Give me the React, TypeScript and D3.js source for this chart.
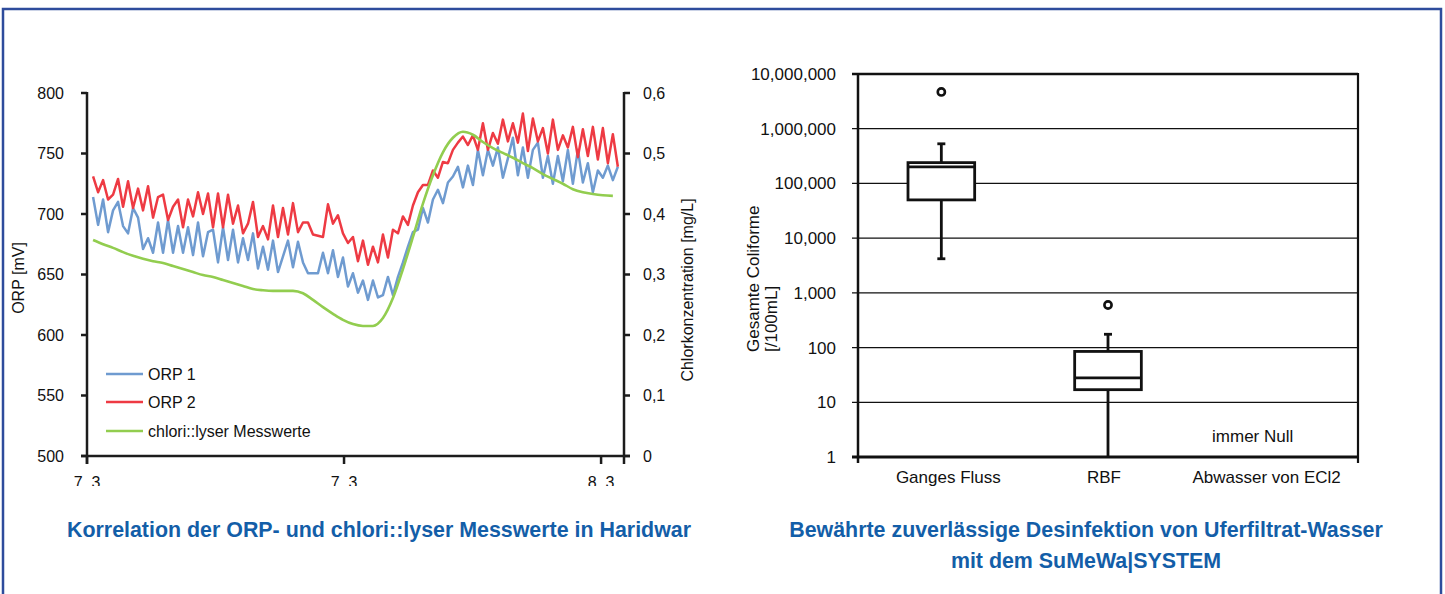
import React from "react";
import * as d3 from "d3";

// ---------- Left chart data (ORP and chlorine over time) ----------
const sampleStartMin = 17; // first sample, minutes after 7.3 00:00
const orpStepMin = 14;
const chlorStepMin = 28;

const orp1 = [
  714, 691, 712, 685, 703, 710, 690, 684, 705, 697,
  671, 680, 668, 693, 668, 695, 668, 690, 668, 689,
  666, 693, 665, 685, 687, 660, 689, 662, 687, 660,
  680, 662, 684, 655, 673, 654, 678, 652, 665, 678,
  656, 677, 660, 651, 651, 651, 668, 651, 670, 648,
  664, 640, 651, 635, 645, 629, 645, 631, 633, 648,
  633, 648, 660, 673, 685, 687, 705, 693, 712, 720,
  709, 726, 731, 739, 722, 740, 724, 753, 732, 753,
  740, 755, 730, 746, 763, 732, 755, 730, 753, 759,
  730, 748, 725, 748, 727, 753, 725, 753, 726, 742,
  718, 736, 730, 740, 728, 739,
];

const orp2 = [
  731, 718, 728, 712, 716, 729, 706, 727, 705, 721,
  703, 723, 697, 714, 716, 695, 706, 712, 689, 712,
  698, 718, 700, 717, 689, 717, 689, 716, 692, 707,
  684, 692, 710, 681, 690, 679, 707, 681, 705, 683,
  709, 685, 693, 693, 683, 682, 681, 708, 692, 699,
  684, 676, 681, 661, 678, 658, 673, 660, 683, 664,
  687, 684, 698, 691, 707, 718, 724, 724, 736, 730,
  743, 742, 753, 759, 764, 757, 765, 753, 775, 753,
  767, 758, 778, 760, 775, 759, 783, 752, 779, 760,
  771, 750, 778, 753, 765, 755, 772, 747, 770, 748,
  772, 745, 771, 742, 766, 739,
];

const chlor = [
  0.357, 0.35, 0.344, 0.337, 0.331, 0.326, 0.322, 0.319, 0.314, 0.309,
  0.304, 0.299, 0.296, 0.291, 0.286, 0.281, 0.276, 0.274, 0.273, 0.273,
  0.273, 0.269, 0.258, 0.246, 0.235, 0.225, 0.218, 0.215, 0.215, 0.228,
  0.261, 0.309, 0.362, 0.417, 0.464, 0.502, 0.526, 0.536, 0.531, 0.519,
  0.509, 0.501, 0.493, 0.484, 0.476, 0.466, 0.458, 0.45, 0.441, 0.436,
  0.433, 0.431, 0.43,
];

const timeTicks = [0, 12, 24];
const timeTickLabels = ["7. 3", "7. 3", "8. 3"];
const orpTicks = [500, 550, 600, 650, 700, 750, 800];
const chlorTicks = [0, 0.1, 0.2, 0.3, 0.4, 0.5, 0.6];
const chlorTickLabels = ["0", "0,1", "0,2", "0,3", "0,4", "0,5", "0,6"];
const seriesNames = ["ORP 1", "ORP 2", "chlori::lyser Messwerte"];

// ---------- Right chart data (box plot, log scale) ----------
const boxCategories = ["Ganges Fluss", "RBF", "Abwasser von ECl2"];
const boxMin = [4200, 1, null];
const boxQ1 = [50000, 17, null];
const boxMedian = [200000, 28, null];
const boxQ3 = [240000, 85, null];
const boxMax = [530000, 175, null];
const boxOutlier = [4700000, 600, null];
const logTicks = [1, 10, 100, 1000, 10000, 100000, 1000000, 10000000];

const FONT = "'Liberation Sans', Arial, Helvetica, sans-serif";
const AX = "#1c1c1c";
const TITLE_BLUE = "#135ea8";
const COL_BLUE = "#6f9bd0";
const COL_RED = "#ee3a43";
const COL_GREEN = "#92cd4f";

export default function App() {
  // left chart geometry
  const L = { left: 87, right: 624, top: 93, bottom: 456 };
  const x = d3.scaleLinear().domain([0, 25.07]).range([L.left, L.right]);
  const yOrp = d3.scaleLinear().domain([500, 800]).range([L.bottom, L.top]);
  const yChl = d3.scaleLinear().domain([0, 0.6]).range([L.bottom, L.top]);

  const orpTime = (i: number) => (sampleStartMin + i * orpStepMin) / 60;
  const chlTime = (i: number) => (sampleStartMin + i * chlorStepMin) / 60;

  const orpLine = d3
    .line<number>()
    .x((_, i) => x(orpTime(i)))
    .y((d) => yOrp(d));
  const chlLine = d3
    .line<number>()
    .x((_, i) => x(chlTime(i)))
    .y((d) => yChl(d))
    .curve(d3.curveMonotoneX);

  // right chart geometry
  const R = { left: 858, right: 1358, top: 74, bottom: 457 };
  const yLog = d3.scaleLog().domain([1, 1e7]).range([R.bottom, R.top]);
  const xBand = d3.scaleBand<string>().domain(boxCategories).range([R.left, R.right]);
  const boxW = xBand.bandwidth() * 0.4;
  const fmt = d3.format(",");

  const legendColors = [COL_BLUE, COL_RED, COL_GREEN];
  const legendY = [374, 402, 431];

  return (
    <svg
      width={1445}
      height={594}
      style={{ position: "absolute", left: 0, top: 0, background: "#fff" }}
      fontFamily={FONT}
    >
      <defs>
        <clipPath id="xlabClip">
          <rect x={0} y={440} width={720} height={46} />
        </clipPath>
      </defs>
      {/* frame */}
      <rect x={3} y={9} width={1438} height={620} fill="none" stroke="#2e4c9c" strokeWidth={2.5} />

      {/* ================= LEFT CHART ================= */}
      <path d={orpLine(orp1) || ""} fill="none" stroke={COL_BLUE} strokeWidth={2.5} strokeLinejoin="round" />
      <path d={orpLine(orp2) || ""} fill="none" stroke={COL_RED} strokeWidth={2.5} strokeLinejoin="round" />
      <path d={chlLine(chlor) || ""} fill="none" stroke={COL_GREEN} strokeWidth={2.6} />

      {/* left axis */}
      <line x1={L.left} x2={L.left} y1={L.top - 1} y2={L.bottom + 8} stroke={AX} strokeWidth={2.5} />
      {orpTicks.map((t) => (
        <g key={"o" + t}>
          <line x1={L.left - 6} x2={L.left} y1={yOrp(t)} y2={yOrp(t)} stroke={AX} strokeWidth={2.5} />
          <text x={64} y={yOrp(t)} dy="0.35em" textAnchor="end" fontSize={16} fill="#111">
            {t}
          </text>
        </g>
      ))}
      {/* right axis */}
      <line x1={L.right} x2={L.right} y1={L.top - 1} y2={L.bottom + 8} stroke={AX} strokeWidth={2.5} />
      {chlorTicks.map((t, i) => (
        <g key={"c" + t}>
          <line x1={L.right} x2={L.right + 6} y1={yChl(t)} y2={yChl(t)} stroke={AX} strokeWidth={2.5} />
          <text x={643} y={yChl(t)} dy="0.35em" textAnchor="start" fontSize={16} fill="#111">
            {chlorTickLabels[i]}
          </text>
        </g>
      ))}
      {/* x axis */}
      <line x1={L.left - 6} x2={L.right + 6} y1={L.bottom} y2={L.bottom} stroke={AX} strokeWidth={2.5} />
      {timeTicks.map((t) => (
        <line key={"t" + t} x1={x(t)} x2={x(t)} y1={L.bottom} y2={L.bottom + 8} stroke={AX} strokeWidth={2.5} />
      ))}
      <g clipPath="url(#xlabClip)">
        {timeTicks.map((t, i) => (
          <text key={"tl" + t} x={x(t)} y={488} textAnchor="middle" fontSize={16} fill="#111">
            {timeTickLabels[i]}
          </text>
        ))}
      </g>
      {/* axis titles */}
      <text transform="translate(24,278) rotate(-90)" textAnchor="middle" fontSize={16} fill="#111">
        ORP [mV]
      </text>
      <text transform="translate(693,290) rotate(-90)" textAnchor="middle" fontSize={16} fill="#111">
        Chlorkonzentration [mg/L]
      </text>
      {/* legend */}
      {seriesNames.map((n, i) => (
        <g key={n}>
          <line x1={106} x2={143} y1={legendY[i]} y2={legendY[i]} stroke={legendColors[i]} strokeWidth={2.5} />
          <text x={148} y={legendY[i]} dy="0.35em" fontSize={16} fill="#111">
            {n}
          </text>
        </g>
      ))}
      {/* title */}
      <text x={379} y={537} textAnchor="middle" fontSize={21.4} fontWeight="bold" fill={TITLE_BLUE}>
        Korrelation der ORP- und chlori::lyser Messwerte in Haridwar
      </text>

      {/* ================= RIGHT CHART ================= */}
      {logTicks.map((t) => (
        <g key={"g" + t}>
          <line
            x1={R.left - 6}
            x2={R.right}
            y1={yLog(t)}
            y2={yLog(t)}
            stroke="#111"
            strokeWidth={t === 1 ? 3 : t === 1e7 ? 2.5 : 1.3}
          />
          <text x={836} y={yLog(t)} dy="0.35em" textAnchor="end" fontSize={17} fill="#111">
            {fmt(t)}
          </text>
        </g>
      ))}
      <line x1={R.left} x2={R.left} y1={R.top - 1} y2={R.bottom + 6} stroke="#111" strokeWidth={2.5} />
      <line x1={R.right} x2={R.right} y1={R.top - 1} y2={R.bottom + 6} stroke="#111" strokeWidth={2.2} />
      {boxCategories.map((c, i) => {
        const cx = (xBand(c) || 0) + xBand.bandwidth() / 2;
        const mn = boxMin[i];
        const q1 = boxQ1[i];
        const md = boxMedian[i];
        const q3 = boxQ3[i];
        const mx = boxMax[i];
        const out = boxOutlier[i];
        return (
          <g key={c}>
            {mn !== null && q1 !== null && q3 !== null && mx !== null && md !== null && (
              <g stroke="#111" strokeWidth={2.8} fill="none">
                <line x1={cx} x2={cx} y1={yLog(mn)} y2={yLog(q1)} />
                <line x1={cx} x2={cx} y1={yLog(q3)} y2={yLog(mx)} />
                {mn > 1 && <line x1={cx - 4} x2={cx + 4} y1={yLog(mn)} y2={yLog(mn)} />}
                <line x1={cx - 4} x2={cx + 4} y1={yLog(mx)} y2={yLog(mx)} />
                <rect x={cx - boxW / 2} y={yLog(q3)} width={boxW} height={yLog(q1) - yLog(q3)} fill="#fff" />
                <line x1={cx - boxW / 2} x2={cx + boxW / 2} y1={yLog(md)} y2={yLog(md)} />
              </g>
            )}
            {out !== null && <circle cx={cx} cy={yLog(out)} r={3.6} fill="#fff" stroke="#111" strokeWidth={2.6} />}
            <text x={cx + (i === 0 ? 7 : i === 1 ? -4 : -8)} y={483} textAnchor="middle" fontSize={17} fill="#111">
              {c}
            </text>
          </g>
        );
      })}
      <text
        x={(xBand(boxCategories[2]) || 0) + xBand.bandwidth() / 2 - 22}
        y={442}
        textAnchor="middle"
        fontSize={17}
        fill="#111"
      >
        immer Null
      </text>
      <text transform="translate(759,352) rotate(-90)" textAnchor="start" fontSize={17} fill="#111">
        Gesamte Coliforme
      </text>
      <text transform="translate(777,352) rotate(-90)" textAnchor="start" fontSize={17} fill="#111">
        [/100mL]
      </text>
      <text x={1086} y={537} textAnchor="middle" fontSize={21.4} fontWeight="bold" fill={TITLE_BLUE}>
        Bewährte zuverlässige Desinfektion von Uferfiltrat-Wasser
      </text>
      <text x={1086} y={568} textAnchor="middle" fontSize={21.4} fontWeight="bold" fill={TITLE_BLUE}>
        mit dem SuMeWa|SYSTEM
      </text>
    </svg>
  );
}
